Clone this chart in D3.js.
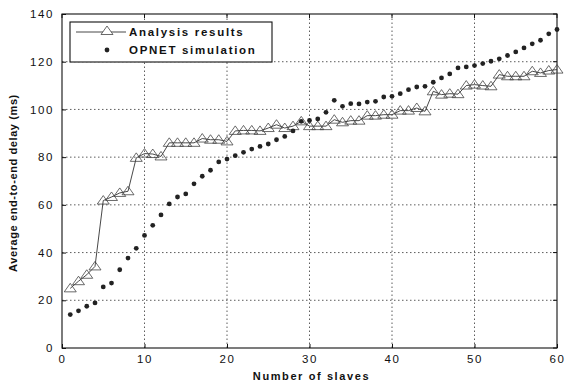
<!DOCTYPE html>
<html>
<head>
<meta charset="utf-8">
<script src="https://cdn.jsdelivr.net/npm/d3@7"></script>
<style>
  body { margin: 0; background: #fff; }
  text { font-family: "Liberation Sans", Arial, sans-serif; fill: #111; }
</style>
</head>
<body>
<div id="chart"></div>
<script>
// number of slaves 1..60
const slaves = d3.range(1, 61);

const analysisResults = [
  25, 28, 30.7, 34.2, 61.8, 63.3, 65, 65.7, 79.7, 81.5,
  81.3, 80.3, 86, 86, 86, 86, 87.8, 87.3, 87.3, 86.6,
  91, 91.2, 91.2, 91, 92.2, 93.6, 92.2, 93, 95, 93,
  93, 93, 95.7, 94.6, 95.3, 95.3, 97.4, 97.4, 97.8, 97.8,
  99.5, 99.5, 100.6, 99.2, 107.6, 106.2, 106.6, 106.4, 110, 110.4,
  110, 109.7, 114.6, 113.9, 113.9, 113.9, 116, 115.3, 116.3, 116.7
];

const opnetSimulation = [
  14, 15.6, 17.5, 18.9, 25.6, 27.2, 32.8, 37.7, 41.8, 47.2,
  51.4, 55.8, 60.4, 63.3, 64.6, 68.8, 72, 74.5, 78, 79.2,
  80.6, 82, 83.4, 84.5, 85.5, 87.3, 88.7, 91, 95, 95.4,
  96, 98.8, 103.8, 101.3, 102.4, 102.3, 103.1, 103.4, 105.2, 105.5,
  106.6, 108.3, 109.4, 109.7, 111.4, 113.2, 114.9, 117.4, 117.8, 118.4,
  119.2, 120.2, 121.2, 122.6, 124.1, 125.8, 127.5, 129, 131.7, 133.5
];

const xTicks = [0, 10, 20, 30, 40, 50, 60];
const yTicks = [0, 20, 40, 60, 80, 100, 120, 140];
const legendLabels = ["Analysis results", "OPNET simulation"];

const width = 569, height = 385;
const margin = {left: 62, right: 12, top: 14, bottom: 37};

const svg = d3.select("#chart").append("svg")
  .attr("width", width)
  .attr("height", height);

const x = d3.scaleLinear().domain([0, 60]).range([margin.left, width - margin.right]);
const y = d3.scaleLinear().domain([0, 140]).range([height - margin.bottom, margin.top]);

// grid (dotted)
const grid = svg.append("g").attr("stroke", "#333").attr("stroke-width", 0.8)
  .attr("stroke-dasharray", "1.5,2.5");
grid.selectAll("line.vx").data(xTicks.slice(1, -1)).join("line")
  .attr("x1", d => x(d)).attr("x2", d => x(d))
  .attr("y1", y(0)).attr("y2", y(140));
grid.selectAll("line.hy").data(yTicks.slice(1, -1)).join("line")
  .attr("x1", x(0)).attr("x2", x(60))
  .attr("y1", d => y(d)).attr("y2", d => y(d));

// axes
const xAxis = svg.append("g")
  .attr("transform", `translate(0,${y(0)})`)
  .call(d3.axisBottom(x).tickValues(xTicks).tickSize(-4).tickPadding(7));
const yAxis = svg.append("g")
  .attr("transform", `translate(${x(0)},0)`)
  .call(d3.axisLeft(y).tickValues(yTicks).tickSize(-4).tickPadding(8));
[xAxis, yAxis].forEach(a => {
  a.select(".domain").remove();
  a.selectAll("line").attr("stroke", "#111");
  a.selectAll("text")
    .style("font-size", "11.5px")
    .style("letter-spacing", "1.6px")
    .attr("fill", "#333");
});

// top/right ticks
svg.append("g").selectAll("line").data(xTicks).join("line")
  .attr("x1", d => x(d)).attr("x2", d => x(d))
  .attr("y1", y(140)).attr("y2", y(140) + 4).attr("stroke", "#111");
svg.append("g").selectAll("line").data(yTicks).join("line")
  .attr("x1", x(60)).attr("x2", x(60) - 4)
  .attr("y1", d => y(d)).attr("y2", d => y(d)).attr("stroke", "#111");

// frame
svg.append("rect")
  .attr("x", x(0)).attr("y", y(140))
  .attr("width", x(60) - x(0)).attr("height", y(0) - y(140))
  .attr("fill", "none").attr("stroke", "#111").attr("stroke-width", 1.1);

// axis labels
svg.append("text")
  .attr("x", (x(0) + x(60)) / 2 + 2).attr("y", 380)
  .attr("text-anchor", "middle")
  .style("font-size", "11px").style("font-weight", "bold").style("letter-spacing", "1.6px")
  .text("Number of slaves");
svg.append("text")
  .attr("transform", `translate(17,${(y(0) + y(140)) / 2 + 2}) rotate(-90)`)
  .attr("text-anchor", "middle")
  .style("font-size", "11px").style("font-weight", "bold").style("letter-spacing", "0.6px")
  .text("Average end-to-end delay (ms)");

// series: flat open triangle like the original marker
const triangle = "M0,-5L6,3.5L-6,3.5Z";

svg.append("path")
  .datum(analysisResults)
  .attr("fill", "none").attr("stroke", "#333").attr("stroke-width", 0.9)
  .attr("d", d3.line().x((d, i) => x(slaves[i])).y(d => y(d)));

svg.append("g").selectAll("path").data(analysisResults).join("path")
  .attr("transform", (d, i) => `translate(${x(slaves[i])},${y(d)})`)
  .attr("d", triangle)
  .attr("fill", "none").attr("stroke", "#444").attr("stroke-width", 0.8);

svg.append("g").selectAll("circle").data(opnetSimulation).join("circle")
  .attr("cx", (d, i) => x(slaves[i])).attr("cy", d => y(d))
  .attr("r", 2.4).attr("fill", "#222");

// legend
const lg = svg.append("g");
lg.append("rect")
  .attr("x", 70).attr("y", 22).attr("width", 202).attr("height", 40)
  .attr("fill", "#fff").attr("stroke", "#111").attr("stroke-width", 1.1);
lg.append("line").attr("x1", 76).attr("x2", 126).attr("y1", 32).attr("y2", 32)
  .attr("stroke", "#333").attr("stroke-width", 0.9);
lg.append("path").attr("transform", "translate(107,31)").attr("d", triangle)
  .attr("fill", "#fff").attr("stroke", "#444").attr("stroke-width", 0.8);
lg.append("circle").attr("cx", 107).attr("cy", 50).attr("r", 2.4).attr("fill", "#222");
lg.selectAll("text").data(legendLabels).join("text")
  .attr("x", 129).attr("y", (d, i) => 36 + i * 18)
  .style("font-size", "11.5px").style("font-weight", "bold").style("letter-spacing", "1.7px")
  .text(d => d);
</script>
</body>
</html>
